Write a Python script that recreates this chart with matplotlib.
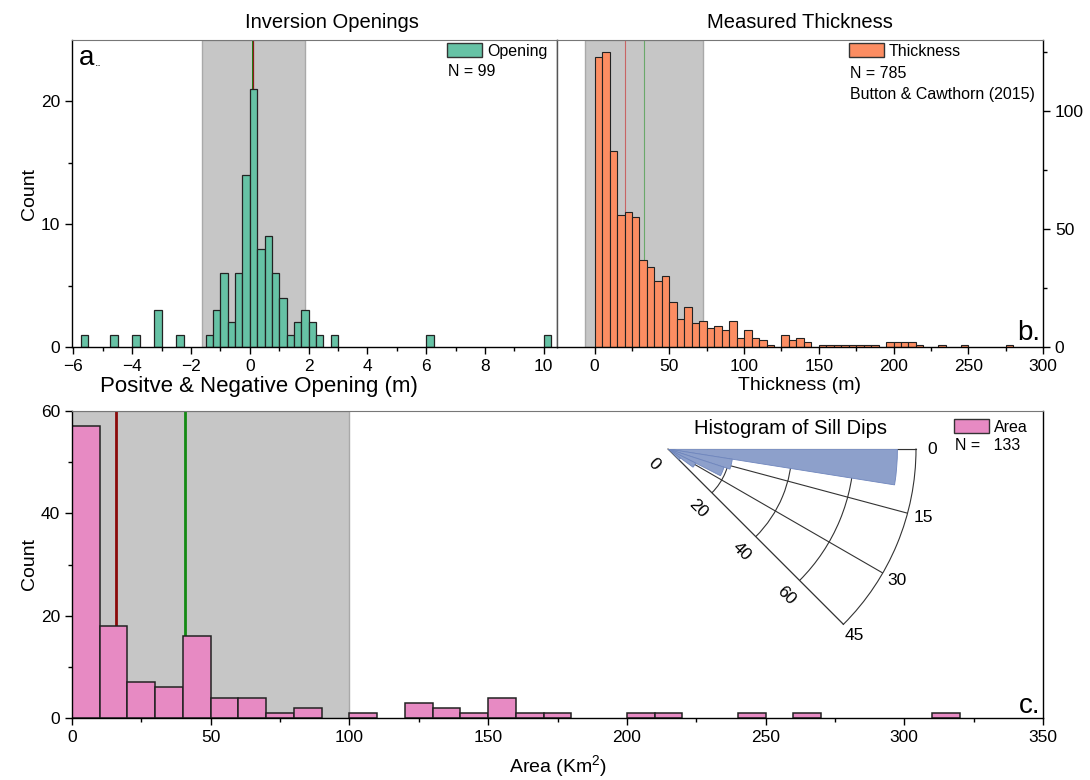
import matplotlib
matplotlib.use("Agg")
import matplotlib.pyplot as plt
from matplotlib.patches import Patch
from matplotlib import transforms
import numpy as np

plt.rcParams['font.family'] = ['Liberation Sans', 'DejaVu Sans']
plt.rcParams['mathtext.fontset'] = 'custom'
plt.rcParams['mathtext.rm'] = 'Liberation Sans'
plt.rcParams['mathtext.default'] = 'regular'

# ---- data ----
# a. inversion openings, bin width 0.25 m (left edges of non-empty bins)
opening_left = [-5.75, -4.75, -4.0, -3.25, -2.5, -1.5, -1.25, -1.0, -0.75, -0.5,
                -0.25, 0.0, 0.25, 0.5, 0.75, 1.0, 1.25, 1.5, 1.75, 2.0,
                2.25, 2.75, 6.0, 10.0]
opening_count = [1, 1, 1, 3, 1, 1, 3, 6, 2, 6,
                 14, 21, 8, 9, 6, 4, 1, 2, 3, 2,
                 1, 1, 1, 1]
opening_median = 0.12
opening_mean = 0.12
opening_std = 1.75

# b. measured thickness, bins of 5 m starting at 0
thickness_count = [123, 125, 83, 56, 57, 55, 37, 34, 28, 30,
                   19, 12, 17, 10, 11, 8, 9, 7, 11, 4,
                   7, 4, 3, 1, 0, 5, 3, 4, 2, 0,
                   1, 1, 1, 1, 1, 1, 1, 1, 0, 2,
                   2, 2, 2, 1, 0, 0, 1, 0, 0, 1,
                   0, 0, 0, 0, 0, 1]
thickness_median = 20.1
thickness_mean = 32.8
thickness_std = 39.5

# c. sill area, bins of 10 km2 starting at 0
area_count = [57, 18, 7, 6, 16, 4, 4, 1, 2, 0,
              1, 0, 3, 2, 1, 4, 1, 1, 0, 0,
              1, 1, 0, 0, 1, 0, 1, 0, 0, 0,
              0, 1]
area_median = 16.0
area_mean = 40.7
area_std = 59.3

# inset: sill dips, bins of 9 degrees
dip_left = [0, 9, 18, 27, 36]
dip_count = [74, 21, 19, 10, 5]

# ---- styling ----
W, H = 1090, 780
green = '#66c2a5'
orange = '#fc8d62'
pink = '#e78ac3'
blue = '#8da0cb'
shade = '#c6c6c6'
shade_edge = '#a9a9a9'


def fx(px):
    return px / W


def fy(py):
    return 1 - py / H


fig = plt.figure(figsize=(W / 100, H / 100), dpi=100)
axa = fig.add_axes([fx(72), fy(347), 485 / W, 307 / H])
axb = fig.add_axes([fx(557), fy(347), 486 / W, 307 / H])
axc = fig.add_axes([fx(72), fy(718), 971 / W, 307 / H])

for ax in (axa, axb, axc):
    ax.tick_params(which='major', direction='out', length=5, width=1, labelsize=12.5)
    ax.tick_params(which='minor', direction='out', length=3, width=1)
    ax.spines['top'].set_color('#777777')
    for s in ('left', 'bottom', 'right'):
        ax.spines[s].set_linewidth(1)

# ---- panel a ----
axa.axvspan(opening_mean - opening_std, opening_mean + opening_std,
            facecolor=shade, edgecolor=shade_edge, lw=1, zorder=0)
axa.axvline(opening_mean, color='green', lw=1.3, zorder=1)
axa.axvline(opening_median, color='#8b1a1a', lw=0.9, zorder=1)
axa.bar(opening_left, opening_count, width=0.25, align='edge',
        color=green, edgecolor='#222222', lw=0.9, zorder=2)
axa.set_xlim(-6.05, 10.45)
axa.set_ylim(0, 25)
axa.set_xticks(np.arange(-6, 11, 2))
axa.set_xticks(np.arange(-5, 11, 2), minor=True)
axa.set_yticks([0, 10, 20])
axa.set_yticks([5, 15], minor=True)
axa.spines['right'].set_color('#555555')
axa.set_xlabel('Positve & Negative Opening (m)', fontsize=16)
axa.xaxis.set_label_coords((259 - 72) / 485, -0.093)
axa.set_ylabel('Count', fontsize=14, labelpad=2)
axa.set_title('Inversion Openings', fontsize=14.5, pad=9, x=(332 - 72) / 485)
axa.legend(handles=[Patch(facecolor=green, edgecolor='#333333', label='Opening')],
           loc='upper left', bbox_to_anchor=(fx(447), fy(43)),
           bbox_transform=fig.transFigure, frameon=False, borderpad=0,
           borderaxespad=0, handlelength=2.2, handleheight=1.0,
           handletextpad=0.3, fontsize=11.5)
fig.text(fx(448), fy(72), 'N = 99', fontsize=11.5, va='center')
fig.text(fx(79), fy(58), 'a', fontsize=20, va='center')
fig.text(fx(95), fy(63), '..', fontsize=9, va='center')

# ---- panel b ----
thick_left = np.arange(len(thickness_count)) * 5
keep = np.array(thickness_count) > 0
axb.axvspan(thickness_mean - thickness_std, thickness_mean + thickness_std,
            facecolor=shade, edgecolor=shade_edge, lw=1, zorder=0)
axb.axvline(thickness_median, color='#c86464', lw=0.8, zorder=1)
axb.axvline(thickness_mean, color='#6aa86a', lw=0.8, zorder=1)
axb.bar(thick_left[keep], np.array(thickness_count)[keep], width=5, align='edge',
        color=orange, edgecolor='#222222', lw=0.8, zorder=2)
axb.set_xlim(-25.2, 300)
axb.set_ylim(0, 130)
axb.set_xticks(np.arange(0, 301, 50))
axb.set_xticks(np.arange(25, 300, 50), minor=True)
axb.yaxis.tick_right()
axb.set_yticks([0, 50, 100])
axb.set_yticks([25, 75, 125], minor=True)
axb.tick_params(axis='y', which='both', left=False, right=True,
                labelleft=False, labelright=True)
axb.spines['left'].set_color('#555555')
axb.set_xlabel('Thickness (m)', fontsize=14, labelpad=2)
axb.set_title('Measured Thickness', fontsize=14.5, pad=9)
axb.legend(handles=[Patch(facecolor=orange, edgecolor='#333333', label='Thickness')],
           loc='upper left', bbox_to_anchor=(fx(849), fy(43)),
           bbox_transform=fig.transFigure, frameon=False, borderpad=0,
           borderaxespad=0, handlelength=2.2, handleheight=1.0,
           handletextpad=0.3, fontsize=11.5)
fig.text(fx(850), fy(73), 'N = 785', fontsize=11.5, va='center')
fig.text(fx(850), fy(94), 'Button & Cawthorn (2015)', fontsize=11.5, va='center')
fig.text(fx(1040), fy(333), 'b.', fontsize=20, va='center', ha='right')

# ---- panel c ----
area_left = np.arange(len(area_count)) * 10
keep = np.array(area_count) > 0
axc.axvspan(area_mean - area_std, area_mean + area_std,
            facecolor=shade, edgecolor=shade_edge, lw=1, zorder=0)
axc.axvline(area_median, color='#8b0a0a', lw=2, zorder=1)
axc.axvline(area_mean, color='#138a13', lw=2, zorder=1)
axc.bar(area_left[keep], np.array(area_count)[keep], width=10, align='edge',
        color=pink, edgecolor='#222222', lw=1.1, zorder=2)
axc.set_xlim(0, 350)
axc.set_ylim(0, 60)
axc.set_xticks(np.arange(0, 351, 50))
axc.set_xticks(np.arange(25, 350, 50), minor=True)
axc.set_yticks([0, 20, 40, 60])
axc.set_yticks([10, 30, 50], minor=True)
axc.set_xlabel('Area (Km$^2$)', fontsize=14, labelpad=6)
axc.set_ylabel('Count', fontsize=14, labelpad=2)
axc.legend(handles=[Patch(facecolor=pink, edgecolor='#333333', label='Area')],
           loc='upper left', bbox_to_anchor=(fx(954), fy(419)),
           bbox_transform=fig.transFigure, frameon=False, borderpad=0,
           borderaxespad=0, handlelength=2.2, handleheight=1.0,
           handletextpad=0.3, fontsize=11.5)
fig.text(fx(955), fy(446), 'N =   133', fontsize=11.5, va='center')
fig.text(fx(1040), fy(706), 'c.', fontsize=20, va='center', ha='right')

# ---- inset polar histogram ----
# polar wedge bbox is padded to a square, so the axes box is R x R
R = 248
pax = fig.add_axes([fx(668), fy(449 - 0.1464 * R + R), R / W, R / H], projection='polar')
pax.set_theta_zero_location('E')
pax.set_theta_direction(-1)
pax.set_thetamin(0)
pax.set_thetamax(45)
pax.set_rlim(0, 80)
pax.bar(np.deg2rad(dip_left), dip_count, width=np.deg2rad(9), align='edge',
        color=blue, edgecolor='#6f86bd', lw=0.6, zorder=3)
pax.set_thetagrids([0, 15, 30, 45], labels=['0', '15', '30', '45'], fontsize=12.5)
pax.set_rgrids([20, 40, 60], labels=[''] * 3)
pax.grid(color='#333333', lw=0.8)
for s in pax.spines.values():
    s.set_color('#333333')
    s.set_linewidth(0.8)
pax.tick_params(axis='x', pad=1)
off = transforms.offset_copy(pax.transData, fig=fig, x=-10, y=-11, units='points')
for r in [0, 20, 40, 60]:
    pax.text(np.deg2rad(45), r, str(r), transform=off, rotation=-45,
             ha='center', va='center', fontsize=12.5)
fig.text(fx(791), fy(428), 'Histogram of Sill Dips', fontsize=14.5, ha='center', va='center')

fig.savefig('out.png', dpi=100)
